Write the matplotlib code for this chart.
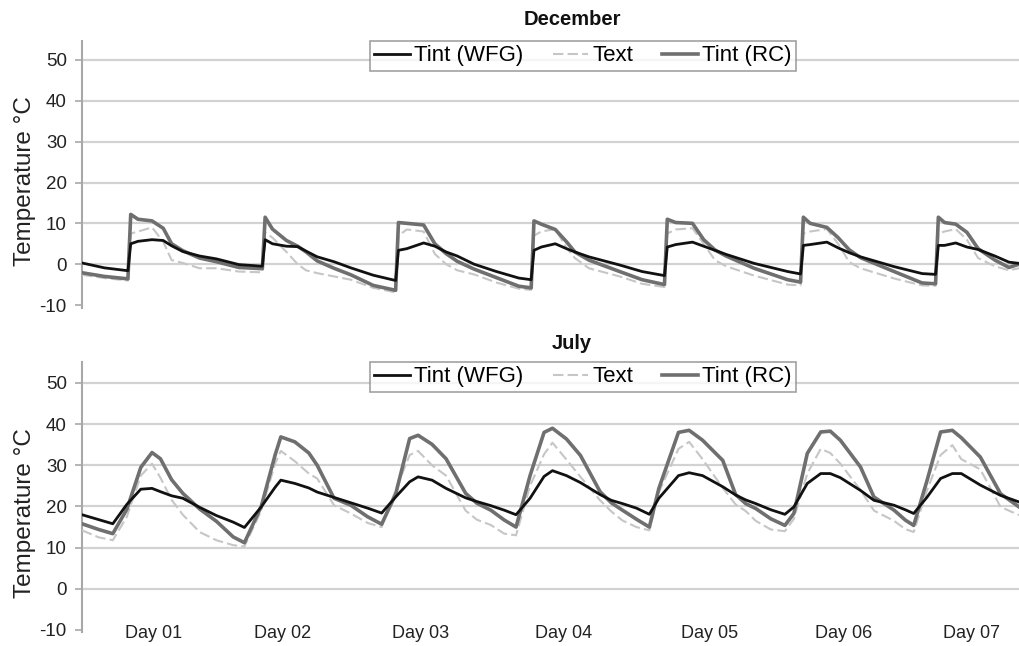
import matplotlib
matplotlib.use('Agg')
import matplotlib.pyplot as plt

plt.rcParams['font.family'] = ['Liberation Sans', 'DejaVu Sans']
plt.rcParams['axes.unicode_minus'] = False

# ---------------- data (hours from start of Day 01) ----------------
dec_hours = [0, 4, 8.2, 8.7, 10, 12.5, 14.5, 16, 18, 21,
             24, 28, 32.2, 32.7, 34, 36.5, 38.5, 40, 42, 45,
             48, 52, 56.0, 56.5, 58, 61, 63, 65, 67, 70, 74, 78,
             80.2, 80.7, 82, 84.5, 86.5, 88, 90.5, 96, 100,
             104.0, 104.5, 106, 109, 111, 113, 115, 120, 126,
             128.3, 128.8, 130, 133, 135, 137, 139, 145, 150,
             152.4, 152.9, 154, 156, 158, 160, 163, 165.5, 167.3]
dec_wfg = [0.3, -0.9, -1.6, 5.0, 5.6, 6.0, 5.8, 4.5, 3.1, 2.0,
           1.3, -0.1, -0.5, 6.0, 5.0, 4.4, 4.3, 3.2, 1.8, 0.6,
           -0.9, -2.7, -4.0, 3.4, 3.8, 5.2, 4.4, 3.0, 2.0, 0.0, -1.8, -3.4,
           -3.8, 3.4, 4.2, 5.0, 3.8, 3.0, 1.8, -0.2, -1.8,
           -2.8, 4.2, 4.8, 5.4, 4.4, 3.4, 2.4, 0.2, -1.8,
           -2.4, 4.6, 4.8, 5.4, 4.0, 2.8, 1.8, -0.6, -2.3,
           -2.5, 4.6, 4.6, 5.2, 4.2, 3.6, 2.0, 0.5, 0.2]
dec_text = [-2.6, -3.4, -4.0, 7.5, 8.0, 9.0, 5.5, 1.0, 0.3, -1.0,
            -1.0, -1.8, -2.0, 7.8, 6.5, 3.0, 0.0, -1.5, -2.2, -3.0,
            -3.8, -5.8, -6.9, 7.0, 8.5, 8.0, 2.5, 0.0, -1.5, -2.5, -4.5, -6.0,
            -6.3, 7.0, 8.0, 8.6, 4.0, 1.5, -1.0, -3.0, -4.8,
            -5.6, 7.5, 8.5, 8.8, 5.0, 1.0, -0.5, -2.8, -5.0,
            -5.2, 7.5, 8.0, 8.6, 5.0, 0.5, -1.0, -3.5, -5.2,
            -5.3, 7.5, 8.0, 8.6, 6.0, 1.5, -0.5, -1.5, -1.0]
dec_rc = [-2.1, -3.0, -3.6, 12.2, 11.0, 10.6, 8.8, 5.0, 3.3, 1.5,
          0.6, -0.8, -1.1, 11.5, 8.6, 5.8, 4.4, 3.0, 0.8, -1.0,
          -2.6, -5.2, -6.4, 10.2, 10.0, 9.6, 5.0, 2.6, 0.7, -1.2, -3.3, -5.4,
          -5.8, 10.6, 9.8, 8.5, 5.5, 3.0, 1.0, -1.8, -3.8,
          -5.0, 11.0, 10.2, 10.0, 6.0, 3.5, 2.0, -1.0, -3.8,
          -4.4, 11.5, 10.0, 9.0, 6.5, 3.5, 1.6, -1.8, -4.6,
          -4.8, 11.5, 10.2, 9.8, 7.8, 3.8, 1.0, -0.8, 0.0]

jul_hours = [0, 3, 5.5, 8, 10.5, 12.5, 14, 16, 18, 21,
             24, 27, 29, 32, 34.5, 35.5, 38, 40.5, 42, 45,
             48, 51, 53.5, 56, 58.5, 60, 62.5, 65, 68.5, 70.5,
             73, 75.4, 77.5, 80, 82.5, 84, 86.5, 89, 92.5, 94.5,
             96.5, 99, 101.3, 103, 106.5, 108.4, 110.8, 114.4, 116.7, 118.5,
             120.3, 123, 125.5, 127.1, 129.5, 131.9, 133.6, 135.4, 139, 141.4,
             145, 147, 148.5, 150.9, 153.3, 155.4, 157, 160.4, 164, 167.3]
jul_wfg = [18.0, 16.8, 15.8, 20.5, 24.2, 24.4, 23.6, 22.6, 22.0, 19.8,
           17.8, 16.2, 14.9, 19.9, 24.7, 26.4, 25.6, 24.5, 23.5, 22.2,
           20.9, 19.6, 18.4, 22.3, 26.0, 27.2, 26.4, 24.4, 22.1, 21.2,
           20.2, 19.1, 18.0, 22.0, 27.3, 28.7, 27.5, 25.8, 22.9, 21.5,
           20.7, 19.6, 18.1, 22.0, 27.5, 28.2, 27.5, 24.8, 22.8, 21.6,
           20.7, 19.2, 18.1, 19.9, 25.6, 28.0, 28.0, 27.0, 23.9, 21.5,
           20.3, 19.2, 18.3, 22.3, 26.8, 28.0, 28.0, 25.2, 22.7, 21.1]
jul_text = [14.2, 12.5, 11.8, 17.5, 27.5, 30.4, 27.0, 21.6, 18.0, 13.8,
            11.8, 10.6, 10.3, 19.0, 30.5, 33.5, 31.0, 28.0, 26.8, 20.3,
            18.3, 16.0, 15.0, 24.0, 32.5, 33.5, 30.0, 27.5, 19.0, 16.8,
            15.5, 13.4, 13.0, 25.0, 32.7, 35.5, 31.4, 27.2, 21.5, 18.8,
            16.6, 15.0, 14.2, 23.5, 34.0, 35.7, 31.5, 24.5, 20.5, 18.9,
            16.5, 14.4, 14.0, 17.0, 28.0, 34.0, 33.0, 30.4, 24.0, 19.0,
            16.5, 14.5, 13.8, 24.0, 32.5, 34.9, 31.5, 29.0, 19.9, 17.9]
jul_rc = [15.8, 14.4, 13.4, 19.3, 29.5, 33.1, 31.6, 26.5, 23.2, 19.4,
          16.4, 12.6, 11.2, 20.0, 32.6, 36.9, 35.7, 33.0, 30.0, 22.0,
          20.3, 17.5, 15.7, 23.0, 36.5, 37.3, 35.1, 31.6, 23.2, 20.8,
          19.1, 16.7, 15.0, 27.5, 38.0, 39.0, 36.4, 32.4, 23.6, 20.9,
          19.1, 16.9, 15.0, 24.4, 38.0, 38.5, 36.1, 31.2, 22.9, 20.7,
          19.5, 17.0, 15.4, 18.3, 32.9, 38.1, 38.3, 36.1, 29.6, 22.3,
          19.1, 16.7, 15.4, 26.4, 38.1, 38.5, 36.7, 32.0, 23.1, 19.9]

series_names = ['Tint (WFG)', 'Text', 'Tint (RC)']
panel_titles = ['December', 'July']
day_labels = ['Day 01', 'Day 02', 'Day 03', 'Day 04', 'Day 05', 'Day 06', 'Day 07']
day_label_hours = [12.7, 35.8, 60.4, 86.0, 112.1, 136.0, 158.9]
y_ticks = [-10, 0, 10, 20, 30, 40, 50]
y_label = 'Temperature °C'

# ---------------- figure ----------------
W, H = 1019, 646
fig = plt.figure(figsize=(W / 100, H / 100), dpi=100)


def px_axes(left, top, right, bottom):
    return fig.add_axes([left / W, 1 - bottom / H, (right - left) / W, (bottom - top) / H])


ax1 = px_axes(82, 41, 1019, 308)
ax2 = px_axes(82, 362, 1019, 632)

panels = [
    (ax1, dec_hours, dec_wfg, dec_text, dec_rc, (-10.73, 54.65), 1.082, 0.474),
    (ax2, jul_hours, jul_wfg, jul_text, jul_rc, (-10.49, 55.1), 1.070, 0.44),
]

for i, (ax, hrs, wfg, txt, rc, ylim, ty, ly) in enumerate(panels):
    l_txt, = ax.plot(hrs, txt, color='#c6c6c6', lw=1.5, ls=(0, (5, 2)), zorder=3)
    l_rc, = ax.plot(hrs, rc, color='#6f6f6f', lw=2.6, zorder=4)
    l_wfg, = ax.plot(hrs, wfg, color='#111111', lw=2.0, zorder=5)

    ax.set_xlim(0, 167.3)
    ax.set_ylim(*ylim)
    ax.set_yticks(y_ticks)
    ax.set_yticklabels([str(v) for v in y_ticks])
    ax.grid(axis='y', color='#d2d2d2', lw=1.6, zorder=0)
    ax.set_axisbelow(True)
    ax.get_ygridlines()[0].set_visible(False)

    for s in ['top', 'right', 'bottom']:
        ax.spines[s].set_visible(False)
    ax.spines['left'].set_color('#a8a8a8')
    ax.spines['left'].set_linewidth(1.5)

    ax.tick_params(axis='y', length=5, width=1.2, color='#a8a8a8', pad=6,
                   labelsize=13.5, labelcolor='#222222')
    ax.set_xticks(day_label_hours)
    if i == 1:
        ax.set_xticklabels(day_labels)
        ax.tick_params(axis='x', length=0, pad=-5, labelsize=13, labelcolor='#222222')
    else:
        ax.set_xticklabels([])
        ax.tick_params(axis='x', length=0)

    ax.set_ylabel(y_label, fontsize=17.5, color='#222222')
    ax.yaxis.set_label_coords(-0.049, ly)

    ax.text((572 - 82) / 937, ty, panel_titles[i], transform=ax.transAxes,
            ha='center', va='center', fontsize=14.5, fontweight='bold', color='#111111')

    leg = ax.legend([l_wfg, l_txt, l_rc], series_names, loc='upper left',
                    bbox_to_anchor=((370 - 82) / 937, 1.0), ncol=3, frameon=True,
                    fancybox=False, edgecolor='#8a8a8a', fontsize=16,
                    handlelength=1.6, handletextpad=0.2, columnspacing=1.3,
                    borderpad=0.2, borderaxespad=0)
    leg.get_frame().set_linewidth(1.2)
    leg.set_zorder(10)

fig.savefig('out.png', dpi=100, facecolor='white')
